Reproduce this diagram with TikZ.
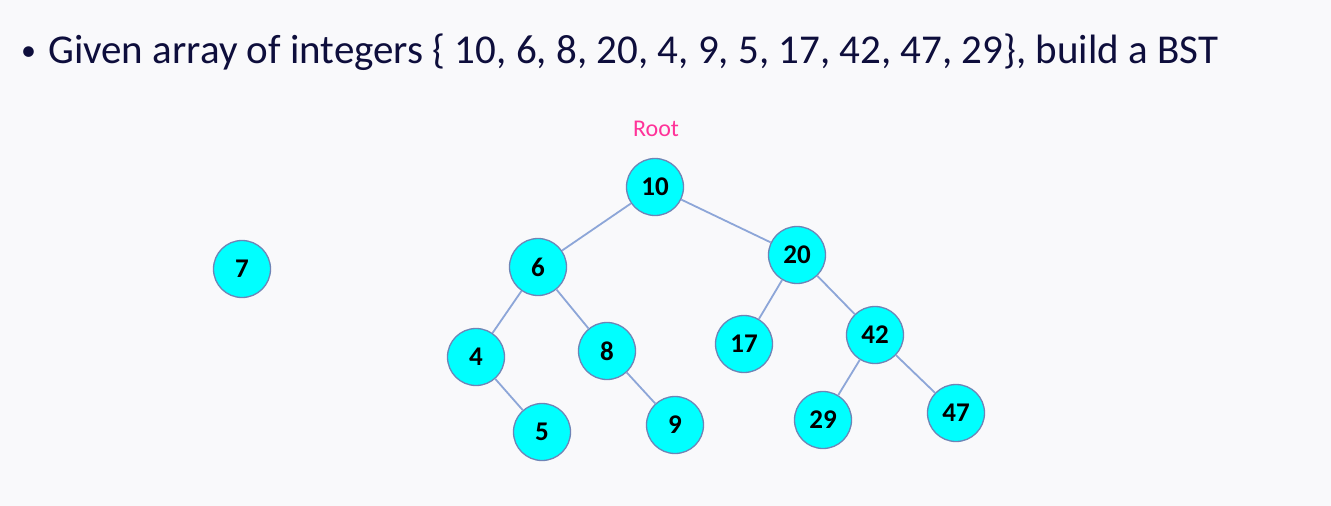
\documentclass[tikz,border=0pt]{standalone}
\usepackage{fontspec}
\setmainfont{Carlito}
\definecolor{bgcol}{HTML}{F9F9FB}
\definecolor{titlecol}{HTML}{0E0E3C}
\definecolor{rootcol}{HTML}{FF3399}
\definecolor{edgecol}{HTML}{8DA6D8}
\definecolor{ringcol}{HTML}{6F84B6}
\definecolor{nodecol}{HTML}{00FFFF}
\begin{document}
\begin{tikzpicture}[
                x=1pt, y=-1pt,
                bstnode/.style={circle,draw=ringcol,line width=1.3pt,fill=nodecol,text=black,
                  minimum size=57pt,inner sep=0pt,font=\fontsize{27}{27}\selectfont\bfseries},
                bstedge/.style={edgecol,line width=1.8pt}] %

\fill[bgcol] (0,0) rectangle (1331,506);
\useasboundingbox (0,0) rectangle (1331,506);

% heading
\node[anchor=base west,text=titlecol,inner sep=0pt,font=\fontsize{41}{41}\selectfont] (HEAD) at (21,63)
  {\raisebox{2pt}{\fontsize{30}{30}\selectfont•}\hspace{12pt}Given array of integers \{ 10, 6, 8, 20, 4, 9, 5, 17, 42, 47, 29\}, build a BST};

% root label
\node[text=rootcol,font=\fontsize{24}{24}\selectfont] (ROOT) at (656,129) {Root};

                    % level 0
                    \node[bstnode] (N10) at (655,187) {10};

                    % level 1
                    \node[bstnode] (N6) at (538,267) {6};
                    \node[bstnode] (N20) at (797,255) {20};

                    % not inserted yet
                    \node[bstnode] (N7) at (242,269) {7};

                    % level 2
                    \node[bstnode] (N4) at (476,357) {4};
                    \node[bstnode] (N8) at (607,351) {8};
                    \node[bstnode] (N17) at (744,344) {17};
                    \node[bstnode] (N42) at (875,335) {42};

                    % level 3
                    \node[bstnode] (N5) at (542,432) {5};
                    \node[bstnode] (N9) at (675,425) {9};
                    \node[bstnode] (N29) at (823,420) {29};
                    \node[bstnode] (N47) at (956,413) {47};

%%%%%%%%%%%%%%%%%%%%%%%%%%%%%%%%%%%%%%%%%%%%%%%%%%%%%%%%%%%%%%%%%%%%%%%%%%%%%%%%%%%%

% links
\path [bstedge] (N10) edge (N6);
\path [bstedge] (N10) edge (N20);
\path [bstedge] (N6) edge (N4);
\path [bstedge] (N6) edge (N8);
\path [bstedge] (N4) edge (N5);
\path [bstedge] (N8) edge (N9);
\path [bstedge] (N20) edge (N17);
\path [bstedge] (N20) edge (N42);
\path [bstedge] (N42) edge (N29);
\path [bstedge] (N42) edge (N47);

\end{tikzpicture}
\end{document}
